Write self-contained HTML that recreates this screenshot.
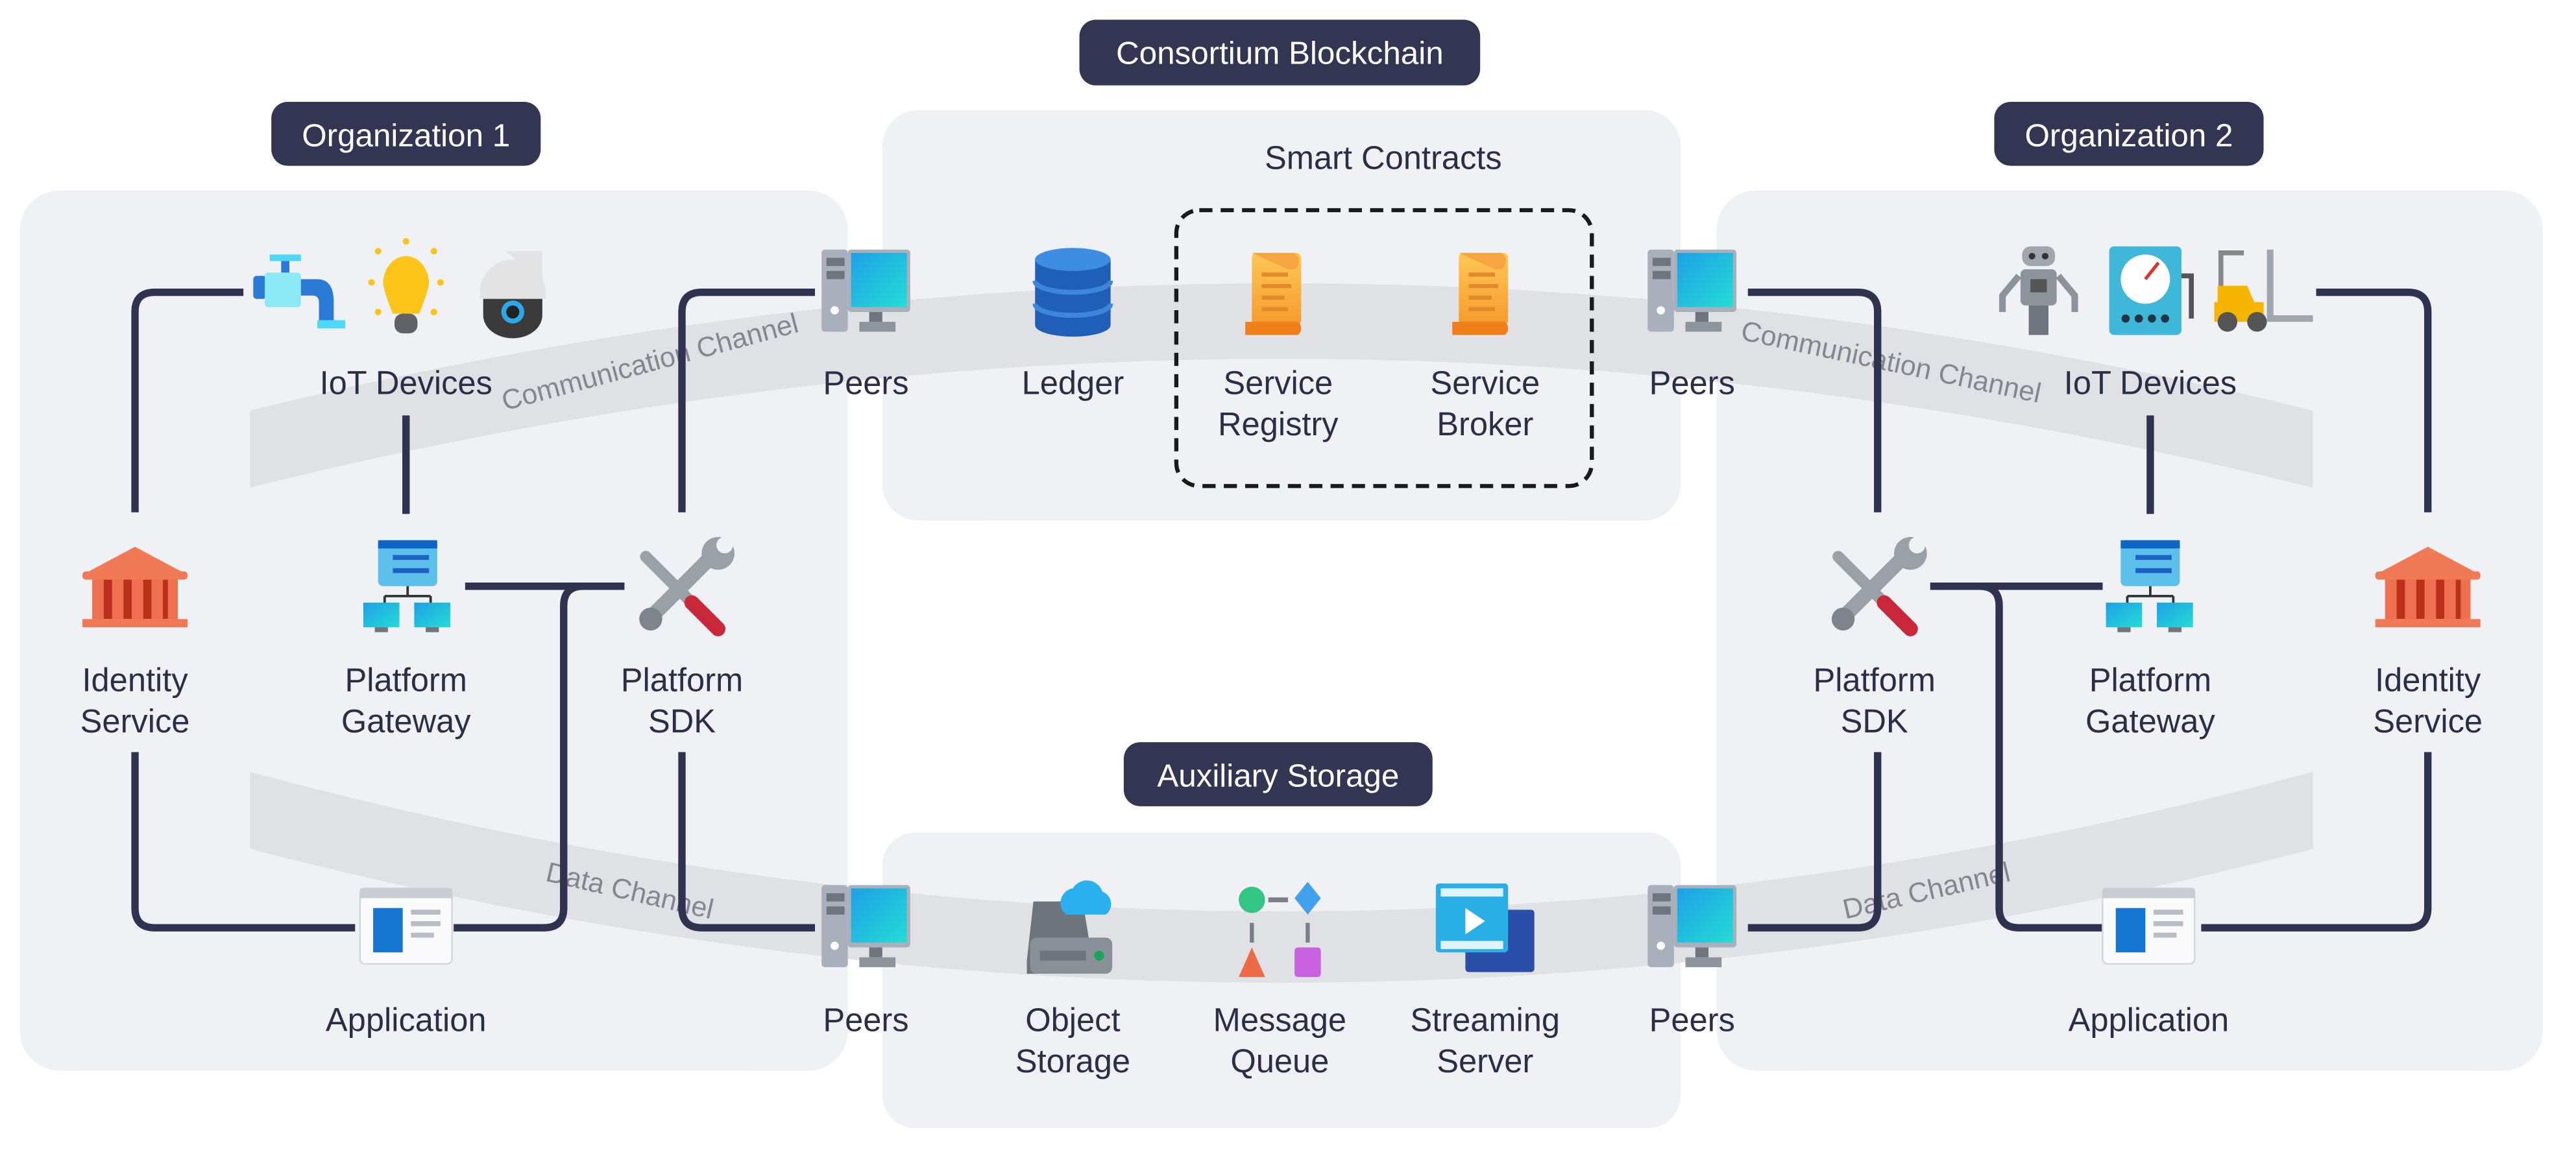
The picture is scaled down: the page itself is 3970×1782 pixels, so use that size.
<!DOCTYPE html>
<html><head><meta charset="utf-8"><style>
html,body{margin:0;padding:0;background:#fff;}
svg{display:block}
text{font-family:"Liberation Sans",sans-serif;}
.lb{font-size:20px;fill:#2b2e45;text-anchor:middle;}
.pl{font-size:19.5px;fill:#fff;text-anchor:middle;}
.ch{font-size:17px;fill:#858790;text-anchor:middle;}
.ln{fill:none;stroke:#30334f;stroke-width:4.5;}
</style></head><body>
<svg width="3970" height="1782" viewBox="0 0 1568 704" xmlns="http://www.w3.org/2000/svg">
<defs>
<linearGradient id="scr" x1="0" y1="0" x2="1" y2="1"><stop offset="0" stop-color="#1ea0e8"/><stop offset="1" stop-color="#24dcd4"/></linearGradient>
<linearGradient id="org" x1="0" y1="0" x2="0" y2="1"><stop offset="0" stop-color="#ffc857"/><stop offset="1" stop-color="#f59a2c"/></linearGradient>
<g id="peer">
<rect x="-27" y="-26" width="16" height="50" rx="2" fill="#a9b0bb"/>
<rect x="-24" y="-21" width="11" height="5" fill="#6f757d"/><rect x="-24" y="-13" width="11" height="5" fill="#6f757d"/>
<circle cx="-19" cy="11" r="2.5" fill="#fff"/>
<rect x="-11" y="-26" width="38" height="38" rx="2" fill="#a9b0bb"/>
<rect x="-9" y="-24" width="34" height="33" fill="url(#scr)"/>
<rect x="2" y="12" width="8" height="6" fill="#6f757d"/><rect x="-4" y="18" width="22" height="6" fill="#8e949c"/>
</g>
<g id="scroll">
<rect x="-16" y="-24" width="30" height="44" rx="3" fill="url(#org)"/>
<path d="M-20,18 h32 a5,5 0 0 1 0,8 h-32 z" fill="#f07f1a"/>
<path d="M-16,-24 h26 a6,6 0 0 1 0,10 h-4" fill="#f7a540"/>
<rect x="-10" y="-12" width="16" height="2.5" fill="#e08a2a"/><rect x="-10" y="-5" width="18" height="2.5" fill="#e08a2a"/>
<rect x="-10" y="2" width="14" height="2.5" fill="#e08a2a"/><rect x="-10" y="9" width="16" height="2.5" fill="#e08a2a"/>
</g>
<g id="bank">
<path d="M-30,-8 L0,-24 L30,-8 Z" fill="#f07a55"/>
<rect x="-32" y="-9" width="64" height="5" rx="2" fill="#f07a55"/>
<rect x="-26" y="-4" width="52" height="24" fill="#b9301b"/>
<rect x="-26" y="-4" width="7" height="24" fill="#ee7050"/><rect x="-14" y="-4" width="7" height="24" fill="#ee7050"/>
<rect x="-2" y="-4" width="7" height="24" fill="#ee7050"/><rect x="10" y="-4" width="7" height="24" fill="#ee7050"/><rect x="20" y="-4" width="6" height="24" fill="#ee7050"/>
<rect x="-32" y="20" width="64" height="5" fill="#f07a55"/>
</g>
<g id="gw">
<rect x="-17" y="-28" width="36" height="28" rx="3" fill="#5cc0ea"/>
<rect x="-17" y="-28" width="36" height="5" fill="#0e66c2"/>
<rect x="-8" y="-19" width="22" height="3" fill="#1e63c4"/><rect x="-8" y="-11" width="22" height="3" fill="#1e63c4"/>
<path d="M1,0 v6 M-13,6 h28 M-13,6 v5 M15,6 v5" stroke="#333" stroke-width="1.5" fill="none"/>
<rect x="-26" y="10" width="22" height="15" fill="url(#scr)"/><rect x="5" y="10" width="22" height="15" fill="url(#scr)"/>
<rect x="-19" y="25" width="8" height="3" fill="#6f757d"/><rect x="12" y="25" width="8" height="3" fill="#6f757d"/>
</g>
<g id="sdk">
<path d="M-22,-18 L22,26" stroke="#9aa0a8" stroke-width="7" stroke-linecap="round"/>
<path d="M6,10 L22,26" stroke="#c8283a" stroke-width="9" stroke-linecap="round"/>
<path d="M22,-22 L-18,18" stroke="#9aa0a8" stroke-width="9" stroke-linecap="round"/>
<circle cx="22" cy="-20" r="10" fill="#9aa0a8"/><circle cx="26" cy="-25" r="5" fill="#f0f1f5"/>
<circle cx="-19" cy="20" r="7" fill="#7d848c"/>
</g>
<g id="app">
<rect x="-28" y="-24" width="56" height="46" rx="3" fill="#fafafa" stroke="#d5d7db"/>
<rect x="-28" y="-24" width="56" height="6" fill="#c9ccd2"/>
<rect x="-20" y="-12" width="18" height="27" fill="#1675d1"/>
<rect x="3" y="-11" width="18" height="3" fill="#b8bcc3"/><rect x="3" y="-4" width="18" height="3" fill="#b8bcc3"/><rect x="3" y="3" width="14" height="3" fill="#b8bcc3"/>
</g>
</defs>

<rect x="12" y="116" width="504" height="536" rx="24" fill="#f0f1f5"/>
<rect x="537" y="67" width="486" height="250" rx="22" fill="#f0f1f5"/>
<rect x="537" y="507" width="486" height="180" rx="20" fill="#f0f1f5"/>
<rect x="1045" y="116" width="503" height="536" rx="24" fill="#f0f1f5"/>

<path d="M152,250 Q780,95 1408,250 L1408,297 Q780,140 152,297 Z" fill="#e0e1e5"/>
<path d="M152,470 Q780,640 1408,470 L1408,517 Q780,680 152,517 Z" fill="#e0e1e5"/>
<text class="ch" transform="translate(397,226) rotate(-15)">Communication Channel</text>
<text class="ch" transform="translate(1150,226) rotate(12)">Communication Channel</text>
<text class="ch" transform="translate(382,548) rotate(13)">Data Channel</text>
<text class="ch" transform="translate(1174,548) rotate(-13)">Data Channel</text>

<rect x="657" y="12" width="244" height="40" rx="10" fill="#333652"/><text class="pl" x="779" y="39">Consortium Blockchain</text>
<rect x="165" y="62" width="164" height="39" rx="10" fill="#333652"/><text class="pl" x="247" y="89">Organization 1</text>
<rect x="1214" y="62" width="164" height="39" rx="10" fill="#333652"/><text class="pl" x="1296" y="89">Organization 2</text>
<rect x="684" y="452" width="188" height="39" rx="10" fill="#333652"/><text class="pl" x="778" y="479">Auxiliary Storage</text>

<rect x="716" y="128" width="253" height="168" rx="14" fill="none" stroke="#1a1a1a" stroke-width="2.5" stroke-dasharray="8,5"/>

<path class="ln" d="M148,178 H94 Q82,178 82,190 V312"/>
<path class="ln" d="M82,458 V553 Q82,565 94,565 H216"/>
<path class="ln" d="M247,253 V313"/>
<path class="ln" d="M283,357 H380"/>
<path class="ln" d="M276,565 H331 Q343,565 343,553 V369 Q343,357 355,357"/>
<path class="ln" d="M496,178 H427 Q415,178 415,190 V312"/>
<path class="ln" d="M415,458 V553 Q415,565 427,565 H496"/>
<path class="ln" d="M1064,178 H1131 Q1143,178 1143,190 V312"/>
<path class="ln" d="M1143,458 V553 Q1143,565 1131,565 H1064"/>
<path class="ln" d="M1309,253 V313"/>
<path class="ln" d="M1175,357 H1280"/>
<path class="ln" d="M1205,357 Q1217,357 1217,369 V553 Q1217,565 1229,565 H1280"/>
<path class="ln" d="M1410,178 H1466 Q1478,178 1478,190 V312"/>
<path class="ln" d="M1478,458 V553 Q1478,565 1466,565 H1340"/>

<g transform="translate(180,178)">
<rect x="-26" y="-10" width="8" height="14" rx="2" fill="#2b7bd6"/>
<rect x="-19" y="-12" width="22" height="21" rx="2" fill="#8beaf5"/>
<rect x="-9" y="-20" width="5" height="8" fill="#2b7bd6"/><rect x="-16" y="-23" width="19" height="4" fill="#4fd8f5"/>
<path d="M3,-8 h10 q10,0 10,14 v14 h-9 v-14 q0,-4 -4,-4 h-7z" fill="#2b7bd6"/><rect x="13" y="17" width="17" height="5" fill="#4fd8f5"/>
</g>
<g transform="translate(247,175)">
<path d="M-14,-2 a14,17 0 1 1 28,0 q-2,9 -6,18 h-16 q-4,-9 -6,-18z" fill="#fcc419"/>
<rect x="-7" y="16" width="14" height="12" rx="5" fill="#5f6368"/>
<circle cx="0" cy="-28" r="2" fill="#fcc419"/><circle cx="-17" cy="-22" r="2" fill="#fcc419"/><circle cx="17" cy="-22" r="2" fill="#fcc419"/>
<circle cx="-21" cy="-3" r="2" fill="#fcc419"/><circle cx="21" cy="-3" r="2" fill="#fcc419"/><circle cx="-17" cy="15" r="2" fill="#fcc419"/><circle cx="17" cy="15" r="2" fill="#fcc419"/>
</g>
<g transform="translate(312,178)">
<path d="M-4,-25 h22 v20 z" fill="#e3e3e3"/>
<path d="M-20,0 a20,20 0 0 1 40,0 v4 h-40z" fill="#e3e3e3"/>
<path d="M-18,4 h36 v10 a18,14 0 0 1 -36,0z" fill="#3a3a3a"/>
<circle cx="0" cy="12" r="7" fill="#2aa9e8"/><circle cx="0" cy="12" r="4" fill="#222"/>
</g>
<g transform="translate(1241,178)">
<rect x="-10" y="-28" width="20" height="12" rx="5" fill="#a0a6ad"/><circle cx="-4" cy="-22" r="2" fill="#333"/><circle cx="4" cy="-22" r="2" fill="#333"/>
<rect x="-11" y="-14" width="22" height="22" rx="3" fill="#8d939a"/><rect x="-5" y="-8" width="10" height="8" fill="#555"/>
<path d="M-12,-10 l-10,12 v10 M12,-10 l10,12 v10" stroke="#8d939a" stroke-width="4" fill="none"/>
<rect x="-6" y="8" width="12" height="18" fill="#6f757d"/>
</g>
<g transform="translate(1310,178)">
<rect x="-26" y="-28" width="44" height="54" rx="3" fill="#3fb7d8"/>
<circle cx="-4" cy="-8" r="15" fill="#fff"/><path d="M-4,-8 l8,-10" stroke="#d33" stroke-width="2"/>
<circle cx="-16" cy="16" r="2.5" fill="#234"/><circle cx="-8" cy="16" r="2.5" fill="#234"/><circle cx="0" cy="16" r="2.5" fill="#234"/><circle cx="8" cy="16" r="2.5" fill="#234"/>
<path d="M18,-10 h6 v26" stroke="#555" stroke-width="3" fill="none"/>
</g>
<g transform="translate(1378,178)">
<path d="M-28,-4 h18 l6,14 h-24z" fill="#f4b400"/><rect x="-30" y="6" width="30" height="12" fill="#f4b400"/>
<path d="M-12,-24 h-14 v20" stroke="#888" stroke-width="3" fill="none"/>
<path d="M4,-26 v42 h26" stroke="#a0a6ad" stroke-width="4" fill="none"/>
<circle cx="-22" cy="18" r="6" fill="#555"/><circle cx="-4" cy="18" r="6" fill="#555"/>
</g>

<use href="#bank" x="82" y="357"/><use href="#bank" x="1478" y="357"/>
<use href="#gw" x="247" y="357"/><use href="#gw" x="1308" y="357"/>
<use href="#sdk" x="415" y="357"/><use href="#sdk" x="1141" y="357"/>
<use href="#app" x="247" y="565"/><use href="#app" x="1308" y="565"/>
<use href="#peer" x="527" y="178"/><use href="#peer" x="527" y="565"/>
<use href="#peer" x="1030" y="178"/><use href="#peer" x="1030" y="565"/>
<use href="#scroll" x="778" y="178"/><use href="#scroll" x="904" y="178"/>
<g transform="translate(653,178)">
<path d="M-23,-20 v40 a23,7 0 0 0 46,0 v-40z" fill="#1f5fb8"/>
<path d="M-23,-7 a23,7 0 0 0 46,0 M-23,7 a23,7 0 0 0 46,0" stroke="#3e86dc" stroke-width="3" fill="none"/>
<ellipse cx="0" cy="-20" rx="23" ry="7" fill="#3d8ee3"/>
</g>
<g transform="translate(653,565)">
<path d="M-24,-16 h30 l6,36 v8 h-40 v-8z" fill="#6e747b"/>
<rect x="-26" y="6" width="50" height="22" rx="4" fill="#8a9097"/><rect x="-20" y="14" width="28" height="6" fill="#6e747b"/>
<circle cx="16" cy="17" r="3" fill="#1aa65a"/>
<path d="M-4,-8 a9,9 0 0 1 4,-16 a10,10 0 0 1 18,2 a8,8 0 0 1 2,14z" fill="#2ab0ee"/>
</g>
<g transform="translate(779,565)">
<circle cx="-17" cy="-17" r="8" fill="#33c584"/>
<path d="M17,-28 l8,10 l-8,10 l-8,-10z" fill="#41a1ec"/>
<path d="M-7,-17 h12" stroke="#7a8088" stroke-width="3"/>
<path d="M-17,-3 v12 M17,-3 v12" stroke="#7a8088" stroke-width="2.5"/>
<path d="M-17,12 l8,18 h-16z" fill="#ec6a47"/>
<rect x="9" y="12" width="16" height="18" rx="2" fill="#c862e0"/>
</g>
<g transform="translate(904,565)">
<rect x="-12" y="-11" width="42" height="38" rx="2" fill="#2a4fa8"/>
<rect x="-30" y="-27" width="44" height="42" rx="2" fill="#29aee6"/>
<rect x="-27" y="-24" width="38" height="5" fill="#fff" opacity=".85"/><rect x="-27" y="8" width="38" height="5" fill="#fff" opacity=".85"/>
<path d="M-12,-12 l12,8 l-12,8z" fill="#fff"/>
</g>

<text class="lb" x="842" y="103">Smart Contracts</text>
<text class="lb" x="247" y="240">IoT Devices</text>
<text class="lb" x="1309" y="240">IoT Devices</text>
<text class="lb" x="527" y="240">Peers</text><text class="lb" x="1030" y="240">Peers</text>
<text class="lb" x="653" y="240">Ledger</text>
<text class="lb" x="778" y="240">Service</text><text class="lb" x="778" y="265">Registry</text>
<text class="lb" x="904" y="240">Service</text><text class="lb" x="904" y="265">Broker</text>
<text class="lb" x="82" y="421">Identity</text><text class="lb" x="82" y="446">Service</text>
<text class="lb" x="247" y="421">Platform</text><text class="lb" x="247" y="446">Gateway</text>
<text class="lb" x="415" y="421">Platform</text><text class="lb" x="415" y="446">SDK</text>
<text class="lb" x="1141" y="421">Platform</text><text class="lb" x="1141" y="446">SDK</text>
<text class="lb" x="1309" y="421">Platform</text><text class="lb" x="1309" y="446">Gateway</text>
<text class="lb" x="1478" y="421">Identity</text><text class="lb" x="1478" y="446">Service</text>
<text class="lb" x="247" y="628">Application</text><text class="lb" x="1308" y="628">Application</text>
<text class="lb" x="527" y="628">Peers</text><text class="lb" x="1030" y="628">Peers</text>
<text class="lb" x="653" y="628">Object</text><text class="lb" x="653" y="653">Storage</text>
<text class="lb" x="779" y="628">Message</text><text class="lb" x="779" y="653">Queue</text>
<text class="lb" x="904" y="628">Streaming</text><text class="lb" x="904" y="653">Server</text>
</svg>
</body></html>
